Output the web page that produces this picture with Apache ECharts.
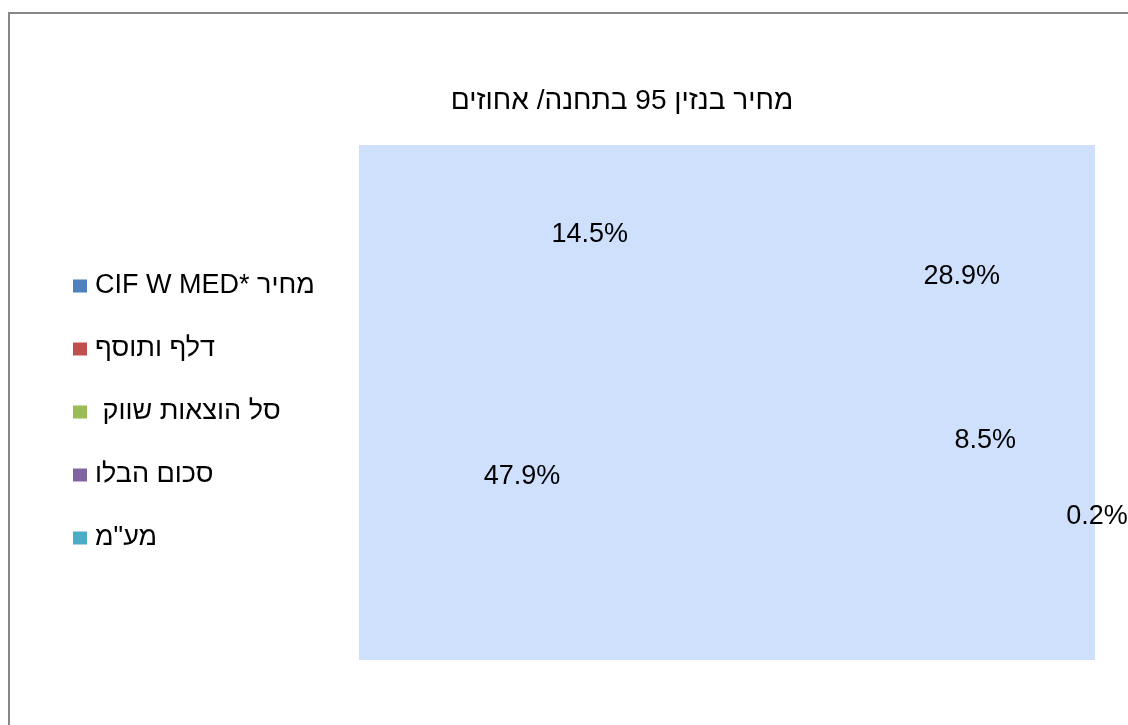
<!DOCTYPE html>
<html>
<head>
<meta charset="utf-8">
<script src="https://cdn.jsdelivr.net/npm/echarts@6/dist/echarts.min.js"></script>
<style>
  html, body { margin: 0; padding: 0; background: #ffffff; }
  #chart { width: 1128px; height: 725px; }
</style>
</head>
<body>
<div id="chart" dir="rtl"></div>
<script>
// ---- data ----
const TITLE = 'מחיר בנזין 95 בתחנה/ אחוזים';
const CATEGORIES = ['מחיר *CIF W MED', 'דלף ותוסף', 'סל הוצאות שווק ', 'סכום הבלו', 'מע"מ'];
const VALUES = [28.9, 0.2, 8.5, 47.9, 14.5];
const COLORS = ['#4f81bd', '#c0504d', '#9bbb59', '#8064a2', '#4bacc6'];

// ---- style / layout constants ----
const FONT = '"Liberation Sans", Arial, sans-serif';
const CX = 726, CY = 367;        // pie centre (3D pie, tilted)
const TILT = 0.485;              // vertical squash of the tilted pie
const OUT_SCALE = 1.264;         // outside labels for tiny slices
const PIE_DEPTH = 103;           // thickness of the 3D pie
const MIN_INSIDE = 1;            // slices smaller than this get an outside label

const chart = echarts.init(document.getElementById('chart'), null, { renderer: 'canvas' });

const seriesData = CATEGORIES.map((name, i) => ({ name: name, value: VALUES[i] }));
const legendData = CATEGORIES.map((name, i) => ({ name: name, itemStyle: { color: COLORS[i], opacity: 1 } }));

chart.setOption({
  animation: false,
  backgroundColor: '#ffffff',
  color: COLORS,
  textStyle: { fontFamily: FONT },
  graphic: [{
    type: 'rect', silent: true, z: -10,
    shape: { x: 9, y: 13, width: 1400, height: 1000 },
    style: { fill: 'none', stroke: '#878787', lineWidth: 2 }
  }],
  title: {
    text: TITLE,
    left: 617, top: 82,
    textAlign: 'center', textVerticalAlign: 'top',
    textStyle: { fontSize: 28, fontWeight: 'normal', color: '#000000', fontFamily: FONT, lineHeight: 28 }
  },
  grid: {
    show: true, left: 359, top: 145, width: 736, height: 515,
    backgroundColor: '#cfe0fd', borderWidth: 0
  },
  legend: {
    orient: 'vertical', left: 73, top: 272.5, padding: 0,
    itemWidth: 14, itemHeight: 13, itemGap: 36, icon: 'rect',
    selectedMode: false,
    data: legendData,
    textStyle: { fontSize: 27, lineHeight: 27, color: '#000000', fontFamily: FONT, padding: [0, 0, 0, 3] }
  },
  series: [{
    type: 'pie',
    center: [CX, CY],
    radius: [0, 600],
    startAngle: 90,
    clockwise: true,
    avoidLabelOverlap: false,
    silent: true,
    data: seriesData,
    itemStyle: { color: 'rgba(0,0,0,0)', borderWidth: 0 },
    label: {
      show: true, position: 'inside', color: '#000000', opacity: 1,
      fontSize: 27, fontFamily: FONT,
      formatter: p => p.value.toFixed(1) + '%'
    },
    labelLine: { show: false },
    labelLayout: function (p) {
      const r = p.labelRect;
      const ux = r.x + r.width / 2 - CX;
      const uy = r.y + r.height / 2 - CY;
      if (VALUES[p.dataIndex] >= MIN_INSIDE) {
        return { x: CX + ux - 3, y: CY + uy * TILT };
      }
      return { x: CX + ux * OUT_SCALE, y: CY + uy * TILT * OUT_SCALE + PIE_DEPTH };
    }
  }]
});
</script>
</body>
</html>
